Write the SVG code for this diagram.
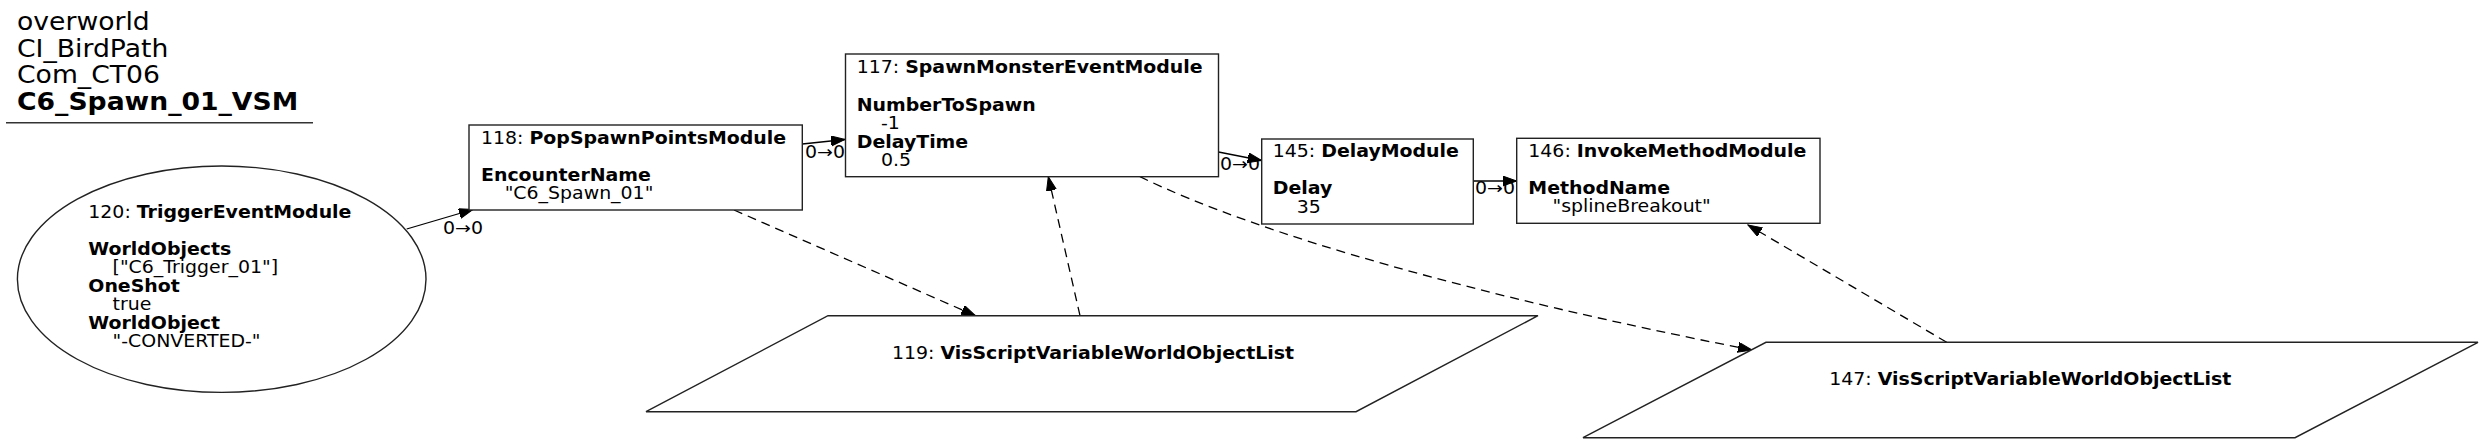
<svg xmlns="http://www.w3.org/2000/svg" width="2483" height="444" viewBox="0 0 2483 444">
<defs>
<style>
text { font-family: "DejaVu Sans", "Liberation Sans", sans-serif; font-size: 17.2px; fill: #000; }
.b { font-weight: bold; }
.t { font-size: 24px; }
.shape { fill: #fff; stroke: #222; stroke-width: 1.4; }
.edge { fill: none; stroke: #000; stroke-width: 1.3; }
.dash { stroke-dasharray: 9 6; }
</style>
<marker id="ah" markerUnits="userSpaceOnUse" markerWidth="15" markerHeight="11" refX="14" refY="5" orient="auto">
<path d="M0,0 L14,5 L0,10 z" fill="#000" stroke="#000" stroke-width="1"/>
</marker>
</defs>
<rect width="2483" height="444" fill="#fff"/>

<g id="title">
<text class="t" transform="translate(17,30) scale(1.11,1)">overworld</text>
<text class="t" transform="translate(17,56.7) scale(1.11,1)">CI_BirdPath</text>
<text class="t" transform="translate(17,83.3) scale(1.11,1)">Com_CT06</text>
<text class="t b" transform="translate(17,110) scale(1.11,1)">C6_Spawn_01_VSM</text>
<line x1="6" y1="122.7" x2="313" y2="122.7" stroke="#333" stroke-width="1.5"/>
</g>

<g id="connectors">
<line class="edge" x1="406.7" y1="229" x2="473" y2="209.5" marker-end="url(#ah)"/>
<line class="edge" x1="802.3" y1="144" x2="845" y2="139.5" marker-end="url(#ah)"/>
<line class="edge" x1="1218.5" y1="152" x2="1261.7" y2="160.5" marker-end="url(#ah)"/>
<line class="edge" x1="1473.3" y1="181" x2="1516.7" y2="181" marker-end="url(#ah)"/>
<line class="edge dash" x1="734" y1="210" x2="975.4" y2="315.7" marker-end="url(#ah)"/>
<line class="edge dash" x1="1080" y1="315.7" x2="1048.3" y2="176.7" marker-end="url(#ah)"/>
<path class="edge dash" d="M1140,176.7 C1260,235 1480,297 1752,350" marker-end="url(#ah)"/>
<line class="edge dash" x1="1946.7" y1="342.3" x2="1748" y2="225" marker-end="url(#ah)"/>
<text transform="translate(443,234) scale(1.1,1)">0→0</text>
<text transform="translate(805,158) scale(1.1,1)">0→0</text>
<text transform="translate(1220,170) scale(1.1,1)">0→0</text>
<text transform="translate(1475,194) scale(1.1,1)">0→0</text>
</g>

<g id="node120">
<ellipse class="shape" cx="221.7" cy="279.2" rx="204.3" ry="113.2"/>
<text transform="translate(88.3,218) scale(1.1,1)">
<tspan x="0" y="0">120: <tspan class="b">TriggerEventModule</tspan></tspan>
<tspan class="b" x="0" y="37">WorldObjects</tspan>
<tspan x="22" y="55.5">["C6_Trigger_01"]</tspan>
<tspan class="b" x="0" y="74">OneShot</tspan>
<tspan x="22" y="92.5">true</tspan>
<tspan class="b" x="0" y="111">WorldObject</tspan>
<tspan x="22" y="129.5">"-CONVERTED-"</tspan>
</text>
</g>

<g id="node118">
<rect class="shape" x="469" y="125" width="333.3" height="85"/>
<text transform="translate(481,144) scale(1.1,1)">
<tspan x="0" y="0">118: <tspan class="b">PopSpawnPointsModule</tspan></tspan>
<tspan class="b" x="0" y="37">EncounterName</tspan>
<tspan x="21.5" y="55.5">"C6_Spawn_01"</tspan>
</text>
</g>

<g id="node117">
<rect class="shape" x="845.5" y="54" width="373" height="122.7"/>
<text transform="translate(856.7,73.3) scale(1.1,1)">
<tspan x="0" y="0">117: <tspan class="b">SpawnMonsterEventModule</tspan></tspan>
<tspan class="b" x="0" y="37.8">NumberToSpawn</tspan>
<tspan x="22" y="55.5">-1</tspan>
<tspan class="b" x="0" y="74.5">DelayTime</tspan>
<tspan x="22" y="92.5">0.5</tspan>
</text>
</g>

<g id="node145">
<rect class="shape" x="1261.7" y="139" width="211.6" height="85"/>
<text transform="translate(1272.7,157.3) scale(1.1,1)">
<tspan x="0" y="0">145: <tspan class="b">DelayModule</tspan></tspan>
<tspan class="b" x="0" y="37.2">Delay</tspan>
<tspan x="21.8" y="55.7">35</tspan>
</text>
</g>

<g id="node146">
<rect class="shape" x="1516.7" y="138.3" width="303.3" height="85"/>
<text transform="translate(1528.3,156.7) scale(1.1,1)">
<tspan x="0" y="0">146: <tspan class="b">InvokeMethodModule</tspan></tspan>
<tspan class="b" x="0" y="37.3">MethodName</tspan>
<tspan x="22" y="55.5">"splineBreakout"</tspan>
</text>
</g>

<g id="node119">
<polygon class="shape" points="828,315.7 1538,315.7 1356,411.7 646,411.7"/>
<text text-anchor="middle" transform="translate(1093,359.3) scale(1.1,1)">119: <tspan class="b">VisScriptVariableWorldObjectList</tspan></text>
</g>

<g id="node147">
<polygon class="shape" points="1766,342.3 2478,342.3 2295,437.7 1583,437.7"/>
<text text-anchor="middle" transform="translate(2030.3,385) scale(1.1,1)">147: <tspan class="b">VisScriptVariableWorldObjectList</tspan></text>
</g>
</svg>
